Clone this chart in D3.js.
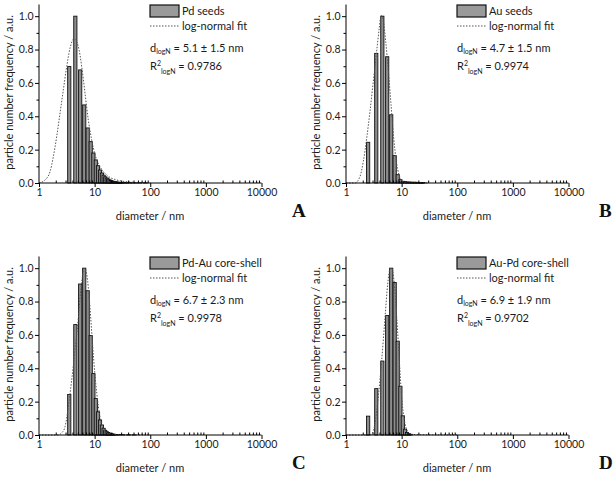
<!DOCTYPE html>
<html><head><meta charset="utf-8">
<script src="https://cdn.jsdelivr.net/npm/d3@7"></script>
<style>
body{margin:0;background:#fff;}
svg{display:block;}
text{font-family:Lato,"Open Sans",sans-serif;fill:#1a1a1a;}
text.letter{font-family:"Liberation Serif","Times New Roman",serif;font-weight:bold;fill:#111;}
</style></head>
<body>
<svg id="chart" width="616" height="478"></svg>
<script>
// ---- data ----
const panelNames = ["Pd seeds", "Au seeds", "Pd-Au core-shell", "Au-Pd core-shell"];
const panelLetters = ["A", "B", "C", "D"];
const dMean = ["5.1 ± 1.5 nm", "4.7 ± 1.5 nm", "6.7 ± 2.3 nm", "6.9 ± 1.9 nm"];
const r2 = ["0.9786", "0.9974", "0.9978", "0.9702"];
const xTicks = [1, 10, 100, 1000, 10000];
const yTicks = [0, 0.2, 0.4, 0.6, 0.8, 1.0];

const diamA = [3.5,4.5,5.5,6.5,7.5,8.5,9.5,10.5,11.5,12.5,13.5,14.5,15.5,16.5,17.5,18.5,19.5,20.5,21.5,22.5,23.5,24.5,25.5,26.5,27.5,28.5,29.5,30.5,32.5,35.5,38.5,42.5,48.5,55.5,65.5,80.5];
const freqA = [0.698,1.0,0.678,0.468,0.33,0.248,0.18,0.138,0.104,0.078,0.06,0.047,0.037,0.03,0.024,0.019,0.015,0.012,0.01,0.008,0.007,0.006,0.005,0.004,0.004,0.003,0.003,0.003,0.002,0.002,0.002,0.002,0.001,0.001,0.001,0.001];
const diamB = [2.5,3.5,4.5,5.5,6.5,7.5,8.5,9.5,10.5,11.5,12.5,13.5,14.5,15.5,16.5,17.5,18.5,19.5,20.5,21.5,22.5,23.5,24.5];
const freqB = [0.244,0.777,1.0,0.757,0.409,0.164,0.05,0.02,0.01,0.008,0.006,0.005,0.005,0.004,0.004,0.004,0.004,0.003,0.003,0.003,0.003,0.003,0.003];
const diamC = [3.5,4.5,5.5,6.5,7.5,8.5,9.5,10.5,11.5,12.5,13.5,14.5,15.5,16.5,17.5,18.5,19.5,20.5,21.5,22.5,24.5,27.5,32.5,40.5,50.5];
const freqC = [0.243,0.662,0.905,1.0,0.865,0.596,0.368,0.219,0.139,0.09,0.06,0.04,0.028,0.02,0.015,0.011,0.008,0.006,0.005,0.004,0.003,0.003,0.002,0.002,0.001];
const diamD = [2.5,3.5,4.5,5.5,6.5,7.5,8.5,9.5,10.5,11.5,12.5,13.5,14.5];
const freqD = [0.113,0.278,0.443,0.716,1.0,0.914,0.562,0.292,0.115,0.035,0.015,0.008,0.004];

const fitDA = [1,1.28,1.58,1.81,2.08,2.39,2.74,3.15,3.61,4.26,5.09,5.86,6.72,7.7,8.86,10.2,12.5,16.5,25,43,100];
const fitVA = [0,0.018,0.068,0.158,0.278,0.42,0.558,0.698,0.808,0.864,0.818,0.698,0.538,0.378,0.258,0.168,0.098,0.048,0.018,0.006,0.0];
const fitDB = [1,1.45,1.79,2.05,2.36,2.7,3.1,3.56,3.97,4.26,4.69,5.17,5.78,6.45,7.2,8.03,8.97,10.7,14,30];
const fitVB = [0,0,0.04,0.13,0.27,0.43,0.61,0.79,0.93,1.005,0.97,0.85,0.67,0.47,0.27,0.13,0.05,0.008,0,0];
const fitDC = [1,2.2,2.6,2.94,3.37,3.87,4.44,5.09,5.7,6.26,6.7,7.5,8.25,9.07,10.2,11.7,13.4,16.5,22,100];
const fitVC = [0,0,0.015,0.05,0.17,0.33,0.51,0.70,0.885,0.98,1.0,0.92,0.765,0.567,0.35,0.17,0.06,0.015,0.003,0];
const fitDD = [1,2.6,2.9,3.32,3.81,4.38,5.03,5.62,6.18,6.63,7.3,8.17,9.1,10.0,11.2,12.9,15.2,100];
const fitVD = [0,0,0.005,0.07,0.23,0.447,0.705,0.905,0.994,1.0,0.924,0.705,0.447,0.23,0.09,0.02,0.003,0];

const bars = [[diamA,freqA],[diamB,freqB],[diamC,freqC],[diamD,freqD]];
const fits = [[fitDA,fitVA],[fitDB,fitVB],[fitDC,fitVC],[fitDD,fitVD]];
const offsets = [[0,0],[307,0],[0,252],[307,252]];

// ---- drawing ----
const svg = d3.select("#chart");
const x = d3.scaleLog().domain([1,10000]).range([39,261.5]);
const y = d3.scaleLinear().domain([0,1.07]).range([183,4.5]);
const minorX = [];
for (let dec=1; dec<10000; dec*=10) for (let k=2;k<10;k++) minorX.push(dec*k);
const minorY = d3.range(0.1,1.05,0.2);

panelNames.forEach((name,i)=>{
  const g = svg.append("g").attr("transform",`translate(${offsets[i][0]},${offsets[i][1]})`);
  // bars
  const [ds,vs] = bars[i];
  g.append("g").selectAll("rect").data(ds.map((d,j)=>({d,v:vs[j]}))).join("rect")
    .attr("x",p=>x(p.d)-1.6).attr("width",3.2)
    .attr("y",p=>y(p.v)).attr("height",p=>y(0)-y(p.v))
    .attr("fill","#8c8c8c").attr("stroke","#111").attr("stroke-width",0.9);
  // fit
  const [fd,fv] = fits[i];
  g.append("path").datum(fd.map((d,j)=>[d,fv[j]]))
    .attr("d",d3.line().x(p=>x(p[0])).y(p=>y(p[1])).curve(d3.curveMonotoneX))
    .attr("fill","none").attr("stroke","#555").attr("stroke-width",1).attr("stroke-dasharray","1.5,1.5");
  // axes
  const xa = g.append("g").attr("transform",`translate(0,${y(0)})`)
    .call(d3.axisBottom(x).tickValues(xTicks).tickFormat(d3.format("d")).tickSize(4).tickPadding(2));
  g.append("g").attr("transform",`translate(0,${y(0)})`)
    .call(d3.axisBottom(x).tickValues(minorX).tickFormat("").tickSize(-2.5))
    .call(s=>s.select(".domain").remove());
  const ya = g.append("g").attr("transform",`translate(${x(1)},0)`)
    .call(d3.axisLeft(y).tickValues(yTicks).tickFormat(d3.format(".1f")).tickSize(4).tickPadding(1.5));
  g.append("g").attr("transform",`translate(${x(1)},0)`)
    .call(d3.axisLeft(y).tickValues(minorY).tickFormat("").tickSize(2.5))
    .call(s=>s.select(".domain").remove());
  xa.select(".domain").attr("d",`M${x(1)},0H${x(10000)}`).attr("stroke","#000");
  ya.select(".domain").attr("d",`M0,${y(0)}V${y(1.07)}`).attr("stroke","#000");
  g.selectAll(".tick line").attr("stroke","#000");
  g.selectAll(".tick text").attr("font-size",10.5);
  // titles
  g.append("text").attr("x",150).attr("y",220).attr("text-anchor","middle").attr("font-size",11).text("diameter / nm");
  g.append("text").attr("transform",`translate(13,${y(0)-90.5}) rotate(-90)`).attr("text-anchor","middle").attr("font-size",11)
    .text("particle number frequency / a.u.");
  g.append("text").attr("class","letter").attr("x",292).attr("y",217)
    .attr("font-size",19).text(panelLetters[i]);
  // legend
  g.append("rect").attr("x",150).attr("y",5).attr("width",29).attr("height",12)
    .attr("fill","#9a9a9a").attr("stroke","#111").attr("stroke-width",1.2);
  g.append("text").attr("x",182).attr("y",15).attr("font-size",11).text(name);
  g.append("line").attr("x1",150).attr("x2",179).attr("y1",26).attr("y2",26)
    .attr("stroke","#555").attr("stroke-dasharray","1.5,1.5");
  g.append("text").attr("x",182).attr("y",29.5).attr("font-size",11).text("log-normal fit");
  const t1 = g.append("text").attr("x",150).attr("y",51.5).attr("font-size",11);
  t1.append("tspan").text("d");
  t1.append("tspan").attr("font-size",7).attr("dy",2.5).text("logN");
  t1.append("tspan").attr("dy",-2.5).text(" = " + dMean[i]);
  const t2 = g.append("text").attr("x",150).attr("y",69.5).attr("font-size",11);
  t2.append("tspan").text("R");
  t2.append("tspan").attr("font-size",7).attr("dy",-4).text("2");
  t2.append("tspan").attr("font-size",7).attr("dy",8).text("logN");
  t2.append("tspan").attr("dy",-4).text(" = " + r2[i]);
});
</script>
</body></html>
